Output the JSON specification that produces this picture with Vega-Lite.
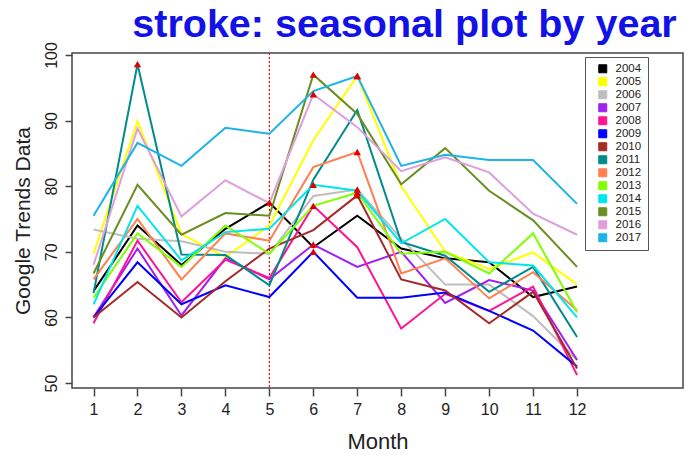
{
  "$schema": "https://vega.github.io/schema/vega-lite/v6.json",
  "width": 611,
  "height": 335,
  "autosize": {"type": "none"},
  "padding": {"left": 72, "top": 53, "right": 8, "bottom": 67},
  "background": "white",
  "title": {"text": "stroke: seasonal plot by year", "color": "#1212E6", "fontSize": 39.5, "font": "Liberation Sans", "fontWeight": "bold", "anchor": "middle", "dx": 27, "dy": 43, "offset": 8, "baseline": "alphabetic"},
  "config": {
    "view": {"stroke": "#444", "strokeWidth": 1.5},
    "axis": {"grid": false, "labelFont": "Liberation Sans", "titleFont": "Liberation Sans", "labelColor": "#222", "titleColor": "#222", "titleFontWeight": "normal", "tickColor": "#444", "tickWidth": 1.5, "domain": false}
  },
  "datasets": {
    "trends": [
      {"year":"2004","month":1,"value":64},{"year":"2004","month":2,"value":74},{"year":"2004","month":3,"value":68},{"year":"2004","month":4,"value":73.5},{"year":"2004","month":5,"value":77.5},{"year":"2004","month":6,"value":70.7},{"year":"2004","month":7,"value":75.5},{"year":"2004","month":8,"value":70.5},{"year":"2004","month":9,"value":69},{"year":"2004","month":10,"value":68.4},{"year":"2004","month":11,"value":63.1},{"year":"2004","month":12,"value":64.7},
      {"year":"2005","month":1,"value":69.7},{"year":"2005","month":2,"value":89.9},{"year":"2005","month":3,"value":72.7},{"year":"2005","month":4,"value":69.2},{"year":"2005","month":5,"value":74},{"year":"2005","month":6,"value":87},{"year":"2005","month":7,"value":96.8},{"year":"2005","month":8,"value":80},{"year":"2005","month":9,"value":70},{"year":"2005","month":10,"value":67.4},{"year":"2005","month":11,"value":69.9},{"year":"2005","month":12,"value":65},
      {"year":"2006","month":1,"value":73.4},{"year":"2006","month":2,"value":72},{"year":"2006","month":3,"value":71.6},{"year":"2006","month":4,"value":70},{"year":"2006","month":5,"value":69.7},{"year":"2006","month":6,"value":78.5},{"year":"2006","month":7,"value":79.5},{"year":"2006","month":8,"value":72},{"year":"2006","month":9,"value":65},{"year":"2006","month":10,"value":65},{"year":"2006","month":11,"value":60.2},{"year":"2006","month":12,"value":53.5},
      {"year":"2007","month":1,"value":60},{"year":"2007","month":2,"value":70.5},{"year":"2007","month":3,"value":60.3},{"year":"2007","month":4,"value":69},{"year":"2007","month":5,"value":65.8},{"year":"2007","month":6,"value":71.1},{"year":"2007","month":7,"value":67.7},{"year":"2007","month":8,"value":70},{"year":"2007","month":9,"value":62.2},{"year":"2007","month":10,"value":65.7},{"year":"2007","month":11,"value":64.1},{"year":"2007","month":12,"value":53.5},
      {"year":"2008","month":1,"value":59.1},{"year":"2008","month":2,"value":71.7},{"year":"2008","month":3,"value":62.3},{"year":"2008","month":4,"value":68.8},{"year":"2008","month":5,"value":66},{"year":"2008","month":6,"value":77},{"year":"2008","month":7,"value":70.7},{"year":"2008","month":8,"value":58.3},{"year":"2008","month":9,"value":63.6},{"year":"2008","month":10,"value":61},{"year":"2008","month":11,"value":64.7},{"year":"2008","month":12,"value":51.2},
      {"year":"2009","month":1,"value":60},{"year":"2009","month":2,"value":68.4},{"year":"2009","month":3,"value":62},{"year":"2009","month":4,"value":64.9},{"year":"2009","month":5,"value":63.1},{"year":"2009","month":6,"value":70},{"year":"2009","month":7,"value":63},{"year":"2009","month":8,"value":63},{"year":"2009","month":9,"value":63.8},{"year":"2009","month":10,"value":61},{"year":"2009","month":11,"value":58},{"year":"2009","month":12,"value":52.5},
      {"year":"2010","month":1,"value":60},{"year":"2010","month":2,"value":65.4},{"year":"2010","month":3,"value":60},{"year":"2010","month":4,"value":65.5},{"year":"2010","month":5,"value":70.5},{"year":"2010","month":6,"value":73.3},{"year":"2010","month":7,"value":78.6},{"year":"2010","month":8,"value":65.8},{"year":"2010","month":9,"value":64.1},{"year":"2010","month":10,"value":59.1},{"year":"2010","month":11,"value":63.9},{"year":"2010","month":12,"value":52.2},
      {"year":"2011","month":1,"value":63.7},{"year":"2011","month":2,"value":98.6},{"year":"2011","month":3,"value":69.6},{"year":"2011","month":4,"value":69.5},{"year":"2011","month":5,"value":64.9},{"year":"2011","month":6,"value":81},{"year":"2011","month":7,"value":91.6},{"year":"2011","month":8,"value":71.5},{"year":"2011","month":9,"value":69.4},{"year":"2011","month":10,"value":63.9},{"year":"2011","month":11,"value":67.7},{"year":"2011","month":12,"value":57},
      {"year":"2012","month":1,"value":65.8},{"year":"2012","month":2,"value":75},{"year":"2012","month":3,"value":65.8},{"year":"2012","month":4,"value":72.8},{"year":"2012","month":5,"value":71.7},{"year":"2012","month":6,"value":82.9},{"year":"2012","month":7,"value":85.2},{"year":"2012","month":8,"value":66.7},{"year":"2012","month":9,"value":69},{"year":"2012","month":10,"value":62.9},{"year":"2012","month":11,"value":66.9},{"year":"2012","month":12,"value":61.1},
      {"year":"2013","month":1,"value":63},{"year":"2013","month":2,"value":72.8},{"year":"2013","month":3,"value":67.7},{"year":"2013","month":4,"value":74},{"year":"2013","month":5,"value":69.7},{"year":"2013","month":6,"value":77},{"year":"2013","month":7,"value":79},{"year":"2013","month":8,"value":69.7},{"year":"2013","month":9,"value":70},{"year":"2013","month":10,"value":66.7},{"year":"2013","month":11,"value":72.8},{"year":"2013","month":12,"value":60.8},
      {"year":"2014","month":1,"value":62},{"year":"2014","month":2,"value":77},{"year":"2014","month":3,"value":68.7},{"year":"2014","month":4,"value":73},{"year":"2014","month":5,"value":73.5},{"year":"2014","month":6,"value":80.2},{"year":"2014","month":7,"value":79.3},{"year":"2014","month":8,"value":71.3},{"year":"2014","month":9,"value":75},{"year":"2014","month":10,"value":68.4},{"year":"2014","month":11,"value":67.9},{"year":"2014","month":12,"value":60},
      {"year":"2015","month":1,"value":66.7},{"year":"2015","month":2,"value":80.2},{"year":"2015","month":3,"value":72.6},{"year":"2015","month":4,"value":75.9},{"year":"2015","month":5,"value":75.5},{"year":"2015","month":6,"value":97},{"year":"2015","month":7,"value":91},{"year":"2015","month":8,"value":80.3},{"year":"2015","month":9,"value":85.8},{"year":"2015","month":10,"value":79.3},{"year":"2015","month":11,"value":74.8},{"year":"2015","month":12,"value":67.7},
      {"year":"2016","month":1,"value":68},{"year":"2016","month":2,"value":88.8},{"year":"2016","month":3,"value":75.4},{"year":"2016","month":4,"value":80.9},{"year":"2016","month":5,"value":77.4},{"year":"2016","month":6,"value":94},{"year":"2016","month":7,"value":89},{"year":"2016","month":8,"value":82.3},{"year":"2016","month":9,"value":84.4},{"year":"2016","month":10,"value":82.1},{"year":"2016","month":11,"value":75.8},{"year":"2016","month":12,"value":72.6},
      {"year":"2017","month":1,"value":75.5},{"year":"2017","month":2,"value":86.6},{"year":"2017","month":3,"value":83.1},{"year":"2017","month":4,"value":88.9},{"year":"2017","month":5,"value":88},{"year":"2017","month":6,"value":94.5},{"year":"2017","month":7,"value":96.8},{"year":"2017","month":8,"value":83.1},{"year":"2017","month":9,"value":84.8},{"year":"2017","month":10,"value":84},{"year":"2017","month":11,"value":84},{"year":"2017","month":12,"value":77.3}
    ],
    "marker": [{"month": 5}]
  },
  "layer": [
    {
      "data": {"name": "marker"},
      "mark": {"type": "rule", "color": "#FF0000", "strokeDash": [2, 2], "strokeWidth": 1.2},
      "encoding": {"x": {"field": "month", "type": "quantitative", "scale": {"domain": [0.51, 14.41], "nice": false, "zero": false}}}
    },
    {
      "data": {"name": "trends"},
      "mark": {"type": "line", "strokeWidth": 2},
      "encoding": {
        "x": {"field": "month", "type": "quantitative", "scale": {"domain": [0.51, 14.41], "nice": false, "zero": false},
              "axis": {"values": [1,2,3,4,5,6,7,8,9,10,11,12], "tickSize": 8, "labelFontSize": 16, "labelPadding": 5, "title": "Month", "titleFontSize": 22, "titlePadding": 14}},
        "y": {"field": "value", "type": "quantitative", "scale": {"domain": [49.24, 100.3], "nice": false, "zero": false},
              "axis": {"values": [50,60,70,80,90,100], "tickSize": 7, "labelFontSize": 16, "labelAngle": -90, "labelAlign": "center", "labelBaseline": "bottom", "labelPadding": 6, "title": "Google Trends Data", "titleFontSize": 21, "titlePadding": 10}},
        "color": {"field": "year", "type": "nominal",
                  "scale": {"domain": ["2004","2005","2006","2007","2008","2009","2010","2011","2012","2013","2014","2015","2016","2017"],
                            "range": ["#000000","#FFFF00","#BEBEBE","#A020F0","#FF1493","#0000FF","#A52A2A","#008B8B","#FF7F50","#7FFF00","#00E5EE","#6B8E23","#DDA0DD","#1CB4E8"]},
                  "legend": {"orient": "none", "legendX": 513, "legendY": 4, "title": null, "symbolType": "square", "symbolSize": 64, "labelFontSize": 11.5, "labelFont": "Liberation Sans", "labelColor": "#222", "rowPadding": 0, "padding": 6, "strokeColor": "#555", "fillColor": "white", "symbolOffset": 6, "labelOffset": 7, "labelExpr": "datum.label + '          '",
                             "encode": {"symbols": {"update": {"fill": {"scale": "color", "field": "value"}, "stroke": {"value": "#333"}, "strokeWidth": {"value": 1}, "opacity": {"value": 1}}}}}}
      }
    },
    {
      "data": {"name": "trends"},
      "transform": [
        {"joinaggregate": [{"op": "max", "field": "value", "as": "maxv"}], "groupby": ["year"]},
        {"filter": "datum.value == datum.maxv"}
      ],
      "mark": {"type": "point", "shape": "triangle-up", "filled": true, "color": "#E00000", "size": 55, "opacity": 1},
      "encoding": {
        "x": {"field": "month", "type": "quantitative"},
        "y": {"field": "value", "type": "quantitative"}
      }
    }
  ]
}
